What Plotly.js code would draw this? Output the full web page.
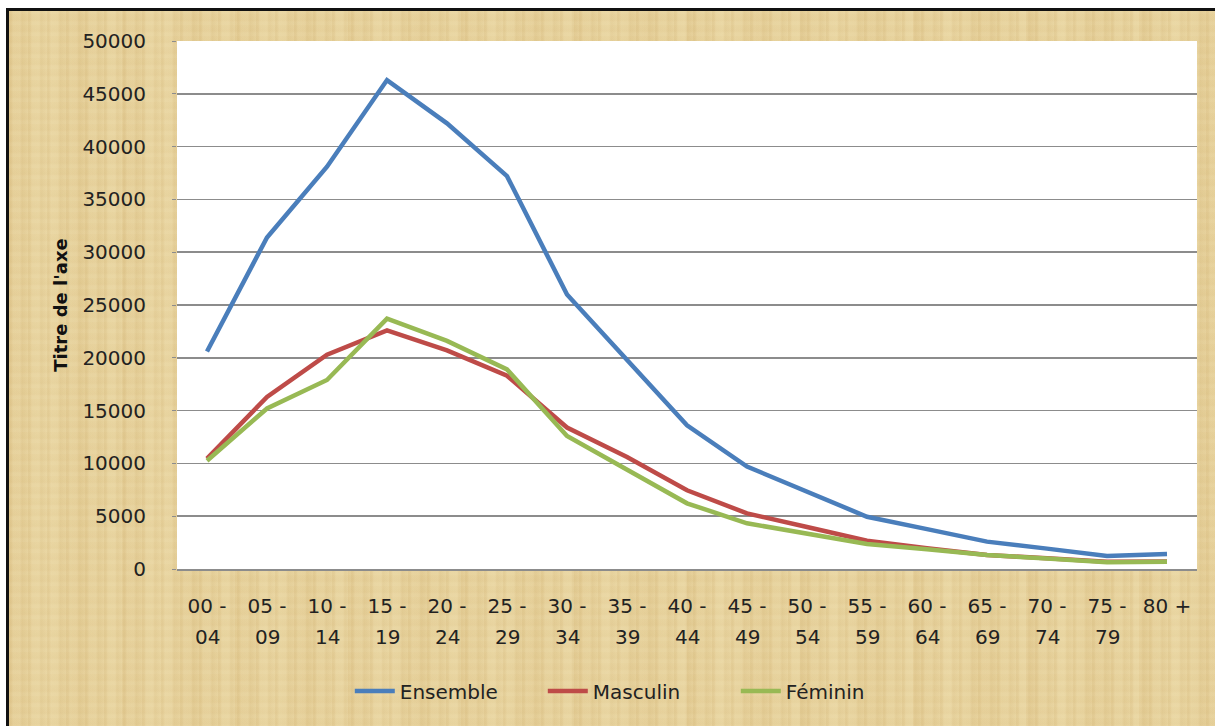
<!DOCTYPE html>
<html>
<head>
<meta charset="utf-8">
<script src="https://cdn.plot.ly/plotly-3.0.1.min.js"></script>
<style>
  html, body { margin: 0; padding: 0; background: #ffffff; width: 1215px; height: 726px; overflow: hidden; }
  #frame {
    position: absolute; left: 6px; top: 8px; width: 1209px; height: 718px;
    border-left: 3px solid #111; border-top: 3px solid #111;
    background-color: #e7d29c;
    background-image:
      repeating-linear-gradient(90deg, rgba(185,145,75,0.10) 0px, rgba(185,145,75,0.10) 2px, rgba(255,245,210,0.06) 4px, rgba(255,245,210,0.06) 11px, rgba(175,135,65,0.08) 13px, rgba(255,240,200,0.0) 19px),
      repeating-linear-gradient(0deg, rgba(255,245,215,0.06) 0px, rgba(255,245,215,0.06) 3px, rgba(190,150,80,0.04) 5px, rgba(255,240,200,0.0) 11px),
      repeating-linear-gradient(90deg, rgba(200,160,90,0.10) 0px, rgba(245,232,190,0.12) 37px, rgba(200,160,90,0.08) 71px, rgba(245,232,190,0.10) 113px);
  }
  #chart { position: absolute; left: 0; top: 0; width: 1200px; height: 715px; }
</style>
</head>
<body>
<div id="frame"><div id="chart"></div></div>
<script>
const categories = ["00 - 04","05 - 09","10 - 14","15 - 19","20 - 24","25 - 29","30 - 34","35 - 39","40 - 44","45 - 49","50 - 54","55 - 59","60 - 64","65 - 69","70 - 74","75 - 79","80 +"];
const tickLine1 = ["00 -","05 -","10 -","15 -","20 -","25 -","30 -","35 -","40 -","45 -","50 -","55 -","60 -","65 -","70 -","75 -","80 +"];
const tickLine2 = ["04","09","14","19","24","29","34","39","44","49","54","59","64","69","74","79",""];
const yTicks = [0, 5000, 10000, 15000, 20000, 25000, 30000, 35000, 40000, 45000, 50000];
const ensemble = [20600, 31400, 38100, 46300, 42200, 37200, 26000, 19800, 13600, 9700, 7300, 4950, 3780, 2590, 1930, 1230, 1420];
const masculin = [10450, 16300, 20300, 22600, 20700, 18300, 13400, 10600, 7450, 5270, 3980, 2680, 1960, 1330, 1010, 690, 700];
const feminin  = [10250, 15200, 17900, 23700, 21600, 18900, 12600, 9400, 6220, 4330, 3300, 2370, 1860, 1330, 1000, 630, 690];
const seriesNames = ["Ensemble", "Masculin", "Féminin"];
const seriesColors = ["#4a7ebb", "#be4b48", "#98b954"];

const font = "DejaVu Sans, sans-serif";
const values = [ensemble, masculin, feminin];
const traces = values.map((v, i) => ({
  x: categories, y: v, type: "scatter", mode: "lines", name: seriesNames[i],
  line: { color: seriesColors[i], width: 4.5 }
}));

const annotations = categories.map((c, i) => ({
  x: c, xref: "x", y: -0.129, yref: "paper", text: tickLine2[i], showarrow: false,
  xanchor: "center", yanchor: "middle", font: { family: font, size: 20, color: "#222" }
}));

const layout = {
  width: 1200, height: 715,
  margin: { l: 168, r: 12, t: 30, b: 157 },
  paper_bgcolor: "rgba(0,0,0,0)",
  plot_bgcolor: "#ffffff",
  showlegend: true,
  font: { family: font, size: 20, color: "#222" },
  xaxis: {
    type: "category", tickmode: "array", tickvals: categories, ticktext: tickLine1,
    showgrid: false, showline: true, linecolor: "#8c8c8c", linewidth: 1.5,
    ticks: "", ticklabelstandoff: 18, tickfont: { family: font, size: 20, color: "#222" },
    range: [-0.5, categories.length - 0.5], fixedrange: true, zeroline: false
  },
  yaxis: {
    range: [0, 50000], tickmode: "array", tickvals: yTicks, ticktext: yTicks.map(String),
    showgrid: true, gridcolor: "#8c8c8c", gridwidth: 1.5, zeroline: false, showline: false,
    ticks: "outside", ticklen: 4, tickcolor: "#8c8c8c", ticklabelstandoff: 22,
    tickfont: { family: font, size: 20, color: "#222" },
    title: { text: "<b>Titre de l'axe</b>", font: { family: font, size: 18, color: "#111" }, standoff: 10 },
    automargin: false, fixedrange: true
  },
  legend: {
    orientation: "h", xref: "container", yref: "container", x: 0.284, y: 0.049,
    xanchor: "left", yanchor: "middle", bgcolor: "rgba(0,0,0,0)",
    font: { family: font, size: 20, color: "#222" }, itemwidth: 40, entrywidth: 138, traceorder: "normal"
  },
  annotations: annotations
};

Plotly.newPlot("chart", traces, layout, { displayModeBar: false, staticPlot: true });
</script>
</body>
</html>
